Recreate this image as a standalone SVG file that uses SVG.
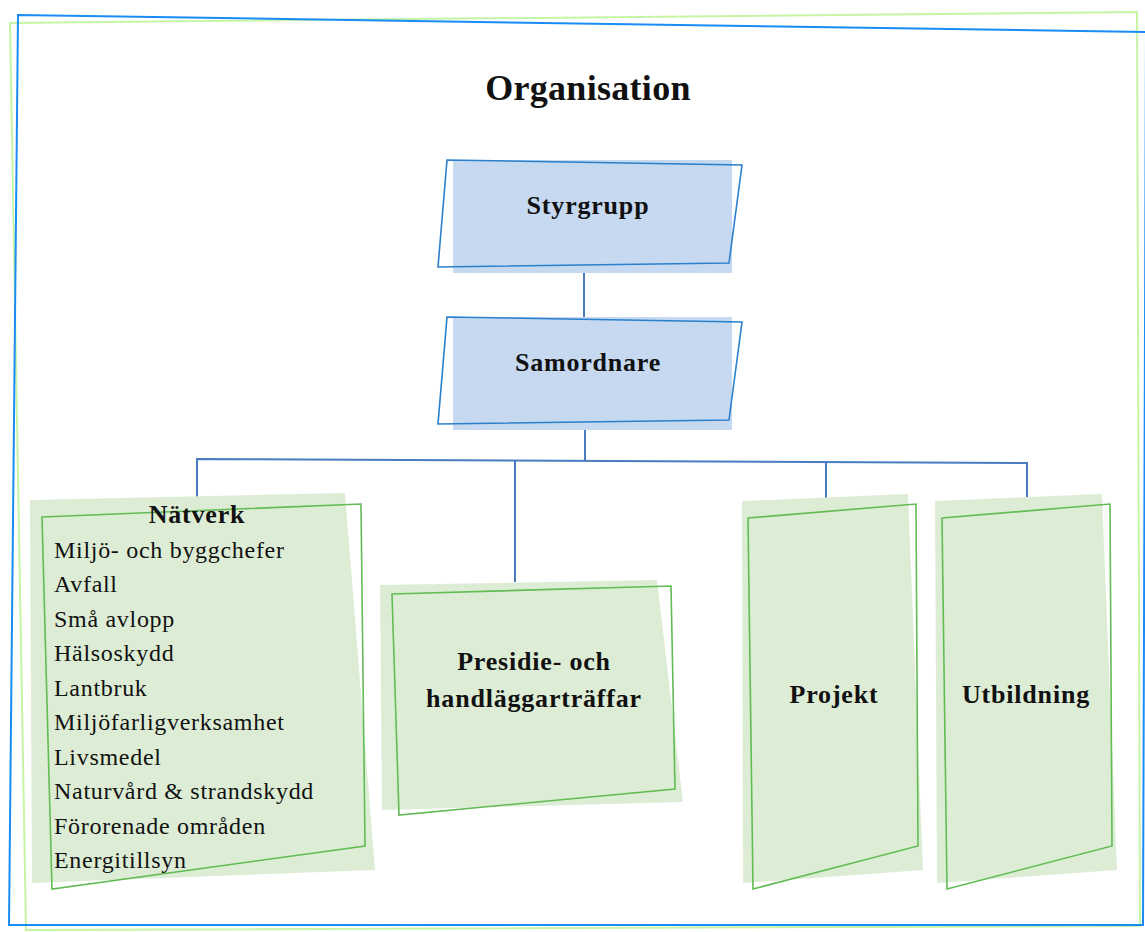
<svg xmlns="http://www.w3.org/2000/svg" width="1145" height="932" viewBox="0 0 1145 932">
<style>
  .frameB { fill: none; stroke: #1a8cf5; stroke-width: 2; }
  .frameG { fill: none; stroke: #c6f5a6; stroke-width: 2; }
  .bfill { fill: #c6d9f1; }
  .bline { fill: none; stroke: #2a80cc; stroke-width: 1.6; }
  .gfill { fill: #ddedd5; }
  .gline { fill: none; stroke: #62bb55; stroke-width: 1.6; }
  .conn { fill: none; stroke: #4a7cc2; stroke-width: 2; }
  .title { font-family: "Liberation Serif", "Times New Roman", serif; font-weight: bold; font-size: 36px; fill: #111; letter-spacing: 0.3px; }
  .lbl { font-family: "Liberation Serif", "Times New Roman", serif; font-weight: bold; font-size: 26px; fill: #111; letter-spacing: 0.8px; }
  .item { font-family: "Liberation Serif", "Times New Roman", serif; font-size: 24px; fill: #111; letter-spacing: 0.7px; }
</style>
<rect width="1145" height="932" fill="#ffffff"/>
<g id="frame">
  <polygon class="frameG" points="10,23 1137,12 1140,926 26,930"/>
  <polygon class="frameB" points="18,15 1146,32 1143,925 9,925"/>
</g>
<text class="title" x="588" y="100" text-anchor="middle">Organisation</text>
<g id="connectors">
  <line class="conn" x1="584" y1="272" x2="584" y2="318"/>
  <line class="conn" x1="585" y1="430" x2="585" y2="461"/>
  <polyline class="conn" points="197,498 197,459 1027,463 1027,498"/>
  <line class="conn" x1="515" y1="461" x2="515" y2="582"/>
  <line class="conn" x1="826" y1="462" x2="826" y2="498"/>
</g>
<g id="styrgrupp">
  <rect class="bfill" x="453" y="160" width="279" height="113"/>
  <polygon class="bline" points="447,160 742,165 729,263 438,267"/>
  <text class="lbl" x="588" y="214" text-anchor="middle">Styrgrupp</text>
</g>
<g id="samordnare">
  <rect class="bfill" x="453" y="317" width="279" height="113"/>
  <polygon class="bline" points="447,317 742,322 729,420 438,424"/>
  <text class="lbl" x="588" y="371" text-anchor="middle">Samordnare</text>
</g>
<g id="natverk">
  <polygon class="gfill" points="30,500 345,493 375,870 32,883"/>
  <polygon class="gline" points="42,517 361,504 365,846 52,889"/>
  <text class="lbl" x="197" y="523" text-anchor="middle">Nätverk</text>
  <text class="item" x="54" y="558">Miljö- och byggchefer</text>
  <text class="item" x="54" y="592">Avfall</text>
  <text class="item" x="54" y="627">Små avlopp</text>
  <text class="item" x="54" y="661">Hälsoskydd</text>
  <text class="item" x="54" y="696">Lantbruk</text>
  <text class="item" x="54" y="730">Miljöfarligverksamhet</text>
  <text class="item" x="54" y="765">Livsmedel</text>
  <text class="item" x="54" y="799">Naturvård &amp; strandskydd</text>
  <text class="item" x="54" y="834">Förorenade områden</text>
  <text class="item" x="54" y="868">Energitillsyn</text>
</g>
<g id="presidie">
  <polygon class="gfill" points="380,585 657,580 683,802 382,810"/>
  <polygon class="gline" points="392,594 671,586 675,789 399,815"/>
  <text class="lbl" x="534" y="670" text-anchor="middle">Presidie- och</text>
  <text class="lbl" x="534" y="707" text-anchor="middle">handläggarträffar</text>
</g>
<g id="projekt">
  <polygon class="gfill" points="742,501 908,494 923,870 743,883"/>
  <polygon class="gline" points="748,518 916,504 918,846 753,889"/>
  <text class="lbl" x="834" y="703" text-anchor="middle">Projekt</text>
</g>
<g id="utbildning">
  <polygon class="gfill" points="935,501 1102,494 1117,870 937,883"/>
  <polygon class="gline" points="942,518 1110,504 1112,846 947,889"/>
  <text class="lbl" x="1026" y="703" text-anchor="middle">Utbildning</text>
</g>
</svg>
